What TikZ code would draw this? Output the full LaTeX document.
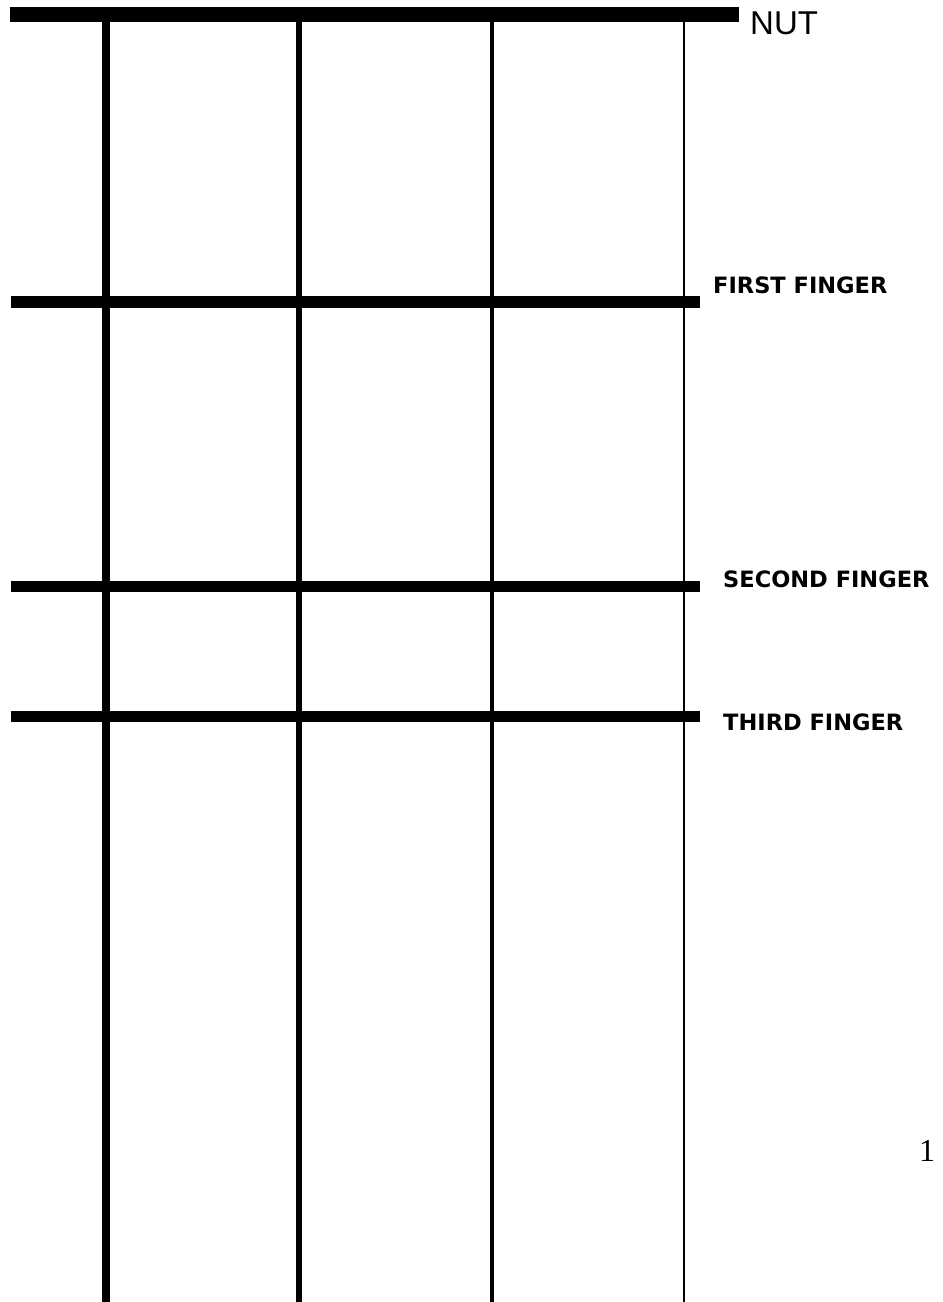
\documentclass[tikz,border=0pt]{standalone}
\usepackage{fontspec}
\setmainfont{Liberation Serif}
\newfontfamily\nutfont{Liberation Sans}
\newfontfamily\labfont{DejaVu Sans}[UprightFont=* Bold]
\tikzset{
  fretbar/.style={line width=11.5pt, black},
  nutbar/.style={line width=15pt, black},
  fingerlabel/.style={anchor=base west, inner sep=0pt, font=\labfont\fontsize{22.5}{26}\selectfont},
}
\begin{document}
\begin{tikzpicture}[x=1pt,y=-1pt]
\useasboundingbox (0,0) rectangle (943,1302);
% strings
\draw[line width=8pt] (106,20) -- (106,1302);
\draw[line width=6pt] (299,20) -- (299,1302);
\draw[line width=4pt] (492,20) -- (492,1302);
\draw[line width=2.5pt] (684,20) -- (684,1302);
% nut and frets
\draw[nutbar] (10,14) -- (739,14);
\draw[fretbar] (10.5,302) -- (700,302);
\draw[fretbar] (10.5,586.5) -- (700,586.5);
\draw[fretbar] (10.5,716.5) -- (700,716.5);
% labels
\node[anchor=base west, inner sep=0pt, font=\nutfont\fontsize{33}{38}\selectfont] (nut) at (750,34) {NUT};
\node[fingerlabel] (first) at (713,293) {FIRST FINGER};
\node[fingerlabel] (second) at (723,587) {SECOND FINGER};
\node[fingerlabel] (third) at (723,730) {THIRD FINGER};
\node[anchor=base west, inner sep=0pt, font=\fontsize{32}{36}\selectfont] (pg) at (919,1161) {1};
\end{tikzpicture}
\end{document}
